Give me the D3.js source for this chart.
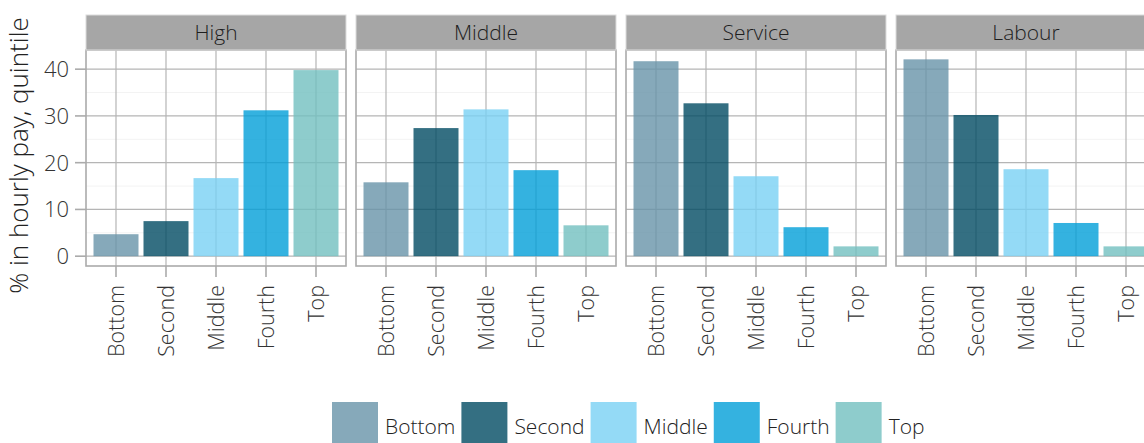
<!DOCTYPE html>
<html>
<head>
<meta charset="utf-8">
<script src="https://cdn.jsdelivr.net/npm/d3@7/dist/d3.min.js"></script>
<style>
html, body { margin: 0; padding: 0; background: #fff; }
svg { display: block; }
text { font-family: "Open Sans", sans-serif; font-weight: 300; }
</style>
</head>
<body>
<svg id="chart" width="1144" height="443"></svg>
<script>
const facets = ["High", "Middle", "Service", "Labour"];
const quintiles = ["Bottom", "Second", "Middle", "Fourth", "Top"];
const highValues = [4.7, 7.5, 16.7, 31.2, 39.8];
const middleValues = [15.8, 27.4, 31.4, 18.4, 6.6];
const serviceValues = [41.7, 32.7, 17.1, 6.2, 2.1];
const labourValues = [42.1, 30.2, 18.6, 7.1, 2.1];
const yTicks = [0, 10, 20, 30, 40];
const yMinorTicks = [5, 15, 25, 35];
const colors = ["#6894a9", "#014b63", "#79d1f4", "#019fd8", "#72bfbf"];
const yTitle = "% in hourly pay, quintile";

const seriesByFacet = {High: highValues, Middle: middleValues, Service: serviceValues, Labour: labourValues};

const svg = d3.select("#chart");
const panelTop = 50, panelBottom = 266, stripTop = 15;
const plotLeft = 86, panelW = 260, gap = 10;

const fx = d3.scaleBand().domain(facets)
  .range([plotLeft, plotLeft + facets.length * panelW + (facets.length - 1) * gap])
  .paddingInner(gap / (panelW + gap)).paddingOuter(0);
const x = d3.scaleBand().domain(quintiles).range([0, panelW]).paddingInner(0.1).paddingOuter(0.15);
const y = d3.scaleLinear().domain([-2.1, 44.1]).range([panelBottom, panelTop]);
const color = d3.scaleOrdinal().domain(quintiles).range(colors);

const gridCol = "#b5b5b5", borderCol = "#ababab";

facets.forEach(f => {
  const g = svg.append("g").attr("transform", `translate(${fx(f)},0)`);
  g.append("rect").attr("x", 0).attr("y", panelTop).attr("width", panelW).attr("height", panelBottom - panelTop).attr("fill", "#fff");
  g.selectAll(".minor").data(yMinorTicks).join("line")
    .attr("x1", 0).attr("x2", panelW).attr("y1", d => y(d)).attr("y2", d => y(d))
    .attr("stroke", "#f3f3f3").attr("stroke-width", 1);
  g.selectAll(".hmaj").data(yTicks).join("line")
    .attr("x1", 0).attr("x2", panelW).attr("y1", d => y(d)).attr("y2", d => y(d))
    .attr("stroke", gridCol).attr("stroke-width", 1.2);
  g.selectAll(".vmaj").data(quintiles).join("line")
    .attr("x1", d => x(d) + x.bandwidth() / 2).attr("x2", d => x(d) + x.bandwidth() / 2)
    .attr("y1", panelTop).attr("y2", panelBottom)
    .attr("stroke", gridCol).attr("stroke-width", 1.2);
  const vals = seriesByFacet[f];
  g.selectAll(".bar").data(quintiles.map((q, i) => ({q, v: vals[i]}))).join("rect")
    .attr("x", d => x(d.q)).attr("width", x.bandwidth())
    .attr("y", d => y(d.v)).attr("height", d => y(0) - y(d.v))
    .attr("fill", d => color(d.q)).attr("fill-opacity", 0.8);
  g.append("rect").attr("x", 0).attr("y", panelTop).attr("width", panelW).attr("height", panelBottom - panelTop)
    .attr("fill", "none").attr("stroke", borderCol).attr("stroke-width", 1.6);
  // strip
  g.append("rect").attr("x", 0).attr("y", stripTop).attr("width", panelW).attr("height", panelTop - stripTop)
    .attr("fill", "#a6a6a6").attr("stroke", "#dcdcdc").attr("stroke-width", 1);
  g.append("text").attr("x", panelW / 2).attr("y", 40).attr("text-anchor", "middle")
    .attr("font-size", 21).attr("fill", "#1e1e1e").text(f);
  // x axis ticks
  g.selectAll(".xt").data(quintiles).join("line")
    .attr("x1", d => x(d) + x.bandwidth() / 2).attr("x2", d => x(d) + x.bandwidth() / 2)
    .attr("y1", panelBottom).attr("y2", panelBottom + 11)
    .attr("stroke", borderCol).attr("stroke-width", 1.6);
  g.selectAll(".xl").data(quintiles).join("text")
    .attr("transform", d => `translate(${x(d) + x.bandwidth() / 2 + 8},285) rotate(-90)`)
    .attr("text-anchor", "end").attr("font-size", 21.5).attr("fill", "#333").text(d => d);
});

// y axis
const ya = svg.append("g");
ya.selectAll("line").data(yTicks).join("line")
  .attr("x1", plotLeft - 11).attr("x2", plotLeft).attr("y1", d => y(d)).attr("y2", d => y(d))
  .attr("stroke", borderCol).attr("stroke-width", 1.6);
ya.selectAll("text").data(yTicks).join("text")
  .attr("x", 69).attr("y", d => y(d)).attr("dy", "0.36em").attr("text-anchor", "end")
  .attr("font-size", 22).attr("fill", "#333").text(d => d);
svg.append("text").attr("transform", `translate(28,155.5) rotate(-90)`).attr("text-anchor", "middle")
  .attr("font-size", 26).attr("fill", "#222").text(yTitle);

// legend
const leg = svg.append("g");
let lx = 332;
quintiles.forEach(q => {
  leg.append("rect").attr("x", lx).attr("y", 402).attr("width", 46).attr("height", 46)
    .attr("fill", color(q)).attr("fill-opacity", 0.8);
  const t = leg.append("text").attr("x", lx + 53).attr("y", 434).attr("font-size", 21).attr("fill", "#222").text(q);
  lx += 53 + t.node().getComputedTextLength() + 6;
});
</script>
</body>
</html>
